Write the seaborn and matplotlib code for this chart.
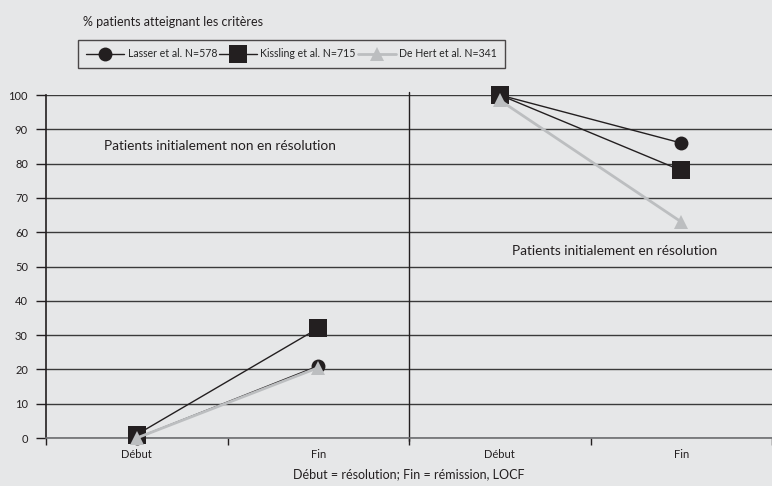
import pandas as pd
import numpy as np
import matplotlib
matplotlib.use("Agg")
import matplotlib.pyplot as plt
import seaborn as sns

# Données
categories = ['Début', 'Fin', 'Début', 'Fin']
panneaux = ['non en résolution', 'non en résolution', 'en résolution', 'en résolution']
series = ['Lasser et al. N=578', 'Kissling et al. N=715', 'De Hert et al. N=341']
lasser = [0, 21, 100, 86]
kissling = [1, 32, 100, 78]
dehert = [0, 20.5, 98.5, 63]

valeurs = {series[0]: lasser, series[1]: kissling, series[2]: dehert}
lignes = []
for s in series:
    for i, v in enumerate(valeurs[s]):
        lignes.append({'serie': s, 'pos': i, 'panneau': panneaux[i], 'valeur': v})
df = pd.DataFrame(lignes)

sns.set_style('white')
plt.rcParams['font.family'] = ['Lato', 'DejaVu Sans']
fond = '#e6e7e8'

fig = plt.figure(figsize=(7.72, 4.86), dpi=100, facecolor=fond)
ax = fig.add_axes([46 / 772, 48 / 486, 726 / 772, 343 / 486])
ax.set_facecolor(fond)

styles = {
    series[0]: dict(marker='o', markersize=10, color='#231f20', lw=1.0),
    series[1]: dict(marker='s', markersize=13.5, color='#231f20', lw=1.0),
    series[2]: dict(marker='^', markersize=10, color='#bcbec0', lw=2.0),
}
for s in series:
    st = styles[s]
    sns.lineplot(data=df[df['serie'] == s], x='pos', y='valeur', units='panneau',
                 estimator=None, ax=ax, marker=st['marker'], markersize=st['markersize'],
                 color=st['color'], lw=st['lw'], markeredgewidth=0, label=s,
                 clip_on=False, zorder=3)

ax.set_ylim(0, 100)
ax.set_xlim(-0.5, 3.467)
ax.set_yticks(np.arange(0, 101, 10))
ax.yaxis.grid(True, color='#3a3a3a', lw=1.0)
ax.set_axisbelow(True)

# graduations x : traits aux limites, libellés au centre
ax.set_xticks([-0.5, 0.5, 1.5, 2.5, 3.5])
ax.set_xticklabels([])
ax.set_xticks(range(len(categories)), minor=True)
ax.set_xticklabels(categories, minor=True, fontsize=8, color='#231f20')
ax.tick_params(axis='x', which='major', direction='out', length=5, width=1, color='#231f20', bottom=True)
ax.tick_params(axis='x', which='minor', length=0, pad=8)
ax.tick_params(axis='y', direction='out', length=7, width=1, color='#231f20', left=True,
               labelsize=8, labelcolor='#231f20', pad=6)

for side in ['top', 'right']:
    ax.spines[side].set_visible(False)
ax.spines['left'].set_color('#231f20')
ax.spines['left'].set_linewidth(1.2)
ax.spines['bottom'].set_color('#6d6e71')
ax.spines['bottom'].set_linewidth(1.2)

# séparateur entre les deux groupes
ax.axvline(1.5, ymin=-0.01, ymax=1.01, color='#231f20', lw=1.0, clip_on=False)

ax.set_xlabel('Début = résolution; Fin = rémission, LOCF', fontsize=9, color='#231f20', labelpad=6)
ax.set_ylabel('')

ax.text(-0.178, 85, 'Patients initialement non en résolution', fontsize=9.8, color='#231f20', va='center')
ax.text(2.068, 54.5, 'Patients initialement en résolution', fontsize=9.8, color='#231f20', va='center')

fig.text(83 / 772, 1 - 22 / 486, '% patients atteignant les critères', fontsize=9,
         color='#231f20', va='center')

# une seule entrée de légende par série
handles, labels = ax.get_legend_handles_labels()
uniques = {}
for h, l in zip(handles, labels):
    uniques.setdefault(l, h)
leg = ax.legend(list(uniques.values()), list(uniques.keys()), loc='upper left',
                bbox_to_anchor=(78 / 772, 1 - 40 / 486),
                bbox_transform=fig.transFigure, ncol=3, frameon=True, fancybox=False,
                fontsize=7.6, handlelength=3.6, columnspacing=0.2, handletextpad=0.3,
                borderpad=0.8, borderaxespad=0)
leg.get_frame().set_edgecolor('#231f20')
leg.get_frame().set_facecolor(fond)
leg.get_frame().set_linewidth(1.0)

fig.savefig('out.png', dpi=100, facecolor=fond)
